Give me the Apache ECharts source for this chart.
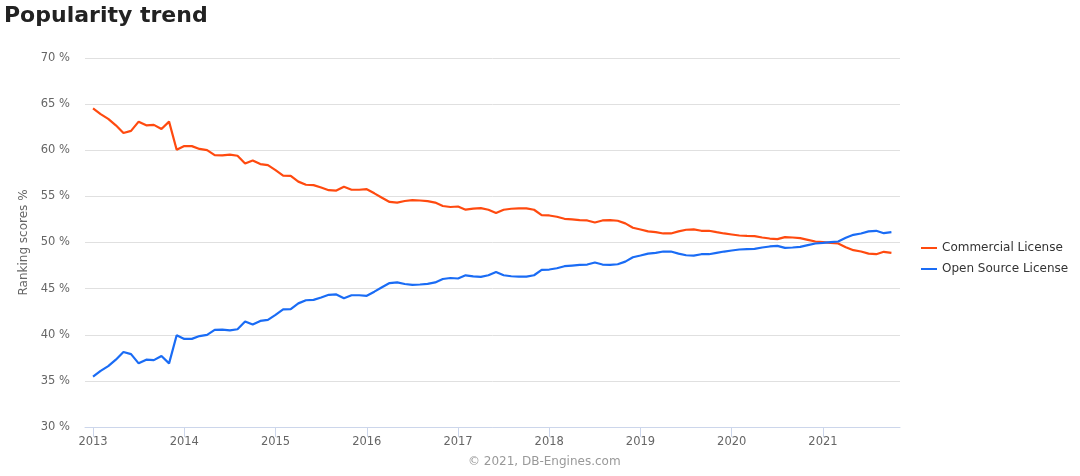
<!DOCTYPE html>
<html>
<head>
<meta charset="utf-8">
<title>Popularity trend</title>
<style>
  html, body { margin: 0; padding: 0; background: #fff; }
  #main { width: 1080px; height: 476px; }
</style>
</head>
<body>
<div id="main"></div>
<script src="https://cdn.jsdelivr.net/npm/echarts@6/dist/echarts.min.js"></script>
<script type="text/javascript">
// monthly values, Jan 2013 .. Oct 2021
var startYear = 2013;
var yearTicks = [2013, 2014, 2015, 2016, 2017, 2018, 2019, 2020, 2021];
var seriesNames = ['Commercial License', 'Open Source License'];

var commercial = [
  64.55, 63.92, 63.40, 62.70, 61.87, 62.10, 63.10, 62.70, 62.75, 62.30, 63.10, 60.05,
  60.45, 60.45, 60.14, 60.02, 59.48, 59.45, 59.52, 59.40, 58.56, 58.90, 58.50, 58.38,
  57.84, 57.25, 57.22, 56.60, 56.26, 56.22, 55.96, 55.67, 55.63, 56.04, 55.72, 55.72,
  55.78, 55.33, 54.85, 54.40, 54.33, 54.50, 54.60, 54.55, 54.48, 54.33, 53.96, 53.85,
  53.90, 53.56, 53.67, 53.72, 53.55, 53.20, 53.55, 53.66, 53.70, 53.70, 53.55, 52.97,
  52.93, 52.79, 52.57, 52.50, 52.43, 52.39, 52.17, 52.39, 52.43, 52.36, 52.07, 51.60,
  51.41, 51.20, 51.12, 50.98, 50.98, 51.20, 51.38, 51.42, 51.27, 51.27, 51.12, 50.98,
  50.87, 50.76, 50.72, 50.69, 50.54, 50.43, 50.36, 50.58, 50.54, 50.47, 50.29, 50.11,
  50.04, 49.96, 49.89, 49.49, 49.17, 49.02, 48.80, 48.73, 48.99, 48.88
];

var openSource = [
  35.45, 36.08, 36.60, 37.30, 38.13, 37.90, 36.90, 37.30, 37.25, 37.70, 36.90, 39.95,
  39.55, 39.55, 39.86, 39.98, 40.52, 40.55, 40.48, 40.60, 41.44, 41.10, 41.50, 41.62,
  42.16, 42.75, 42.78, 43.40, 43.74, 43.78, 44.04, 44.33, 44.37, 43.96, 44.28, 44.28,
  44.22, 44.67, 45.15, 45.60, 45.67, 45.50, 45.40, 45.45, 45.52, 45.67, 46.04, 46.15,
  46.10, 46.44, 46.33, 46.28, 46.45, 46.80, 46.45, 46.34, 46.30, 46.30, 46.45, 47.03,
  47.07, 47.21, 47.43, 47.50, 47.57, 47.61, 47.83, 47.61, 47.57, 47.64, 47.93, 48.40,
  48.59, 48.80, 48.88, 49.02, 49.02, 48.80, 48.62, 48.58, 48.73, 48.73, 48.88, 49.02,
  49.13, 49.24, 49.28, 49.31, 49.46, 49.57, 49.64, 49.42, 49.46, 49.53, 49.71, 49.89,
  49.96, 50.04, 50.11, 50.51, 50.83, 50.98, 51.20, 51.27, 51.01, 51.12
];

var colors = ['#ff4a0f', '#1a6cf5'];
var fontFam = '"DejaVu Sans", Verdana, sans-serif';

// month index -> decimal year on the value axis
function toPoints(arr) {
  return arr.map(function (v, i) { return [startYear + i / 12, v]; });
}

var myChart = echarts.init(document.getElementById('main'));

var option = {
  animation: false,
  backgroundColor: '#fff',
  color: colors,
  title: {
    text: 'Popularity trend',
    left: -1,
    top: 0,
    textStyle: { fontFamily: fontFam, fontSize: 22, fontWeight: 'bold', color: '#222' }
  },
  grid: { left: 85, right: 180, top: 58, bottom: 49 },
  legend: {
    data: seriesNames,
    orient: 'vertical',
    left: 916,
    top: 237,
    itemWidth: 16,
    itemHeight: 2,
    itemGap: 9,
    icon: 'rect',
    textStyle: { fontFamily: fontFam, fontSize: 12, color: '#333' }
  },
  xAxis: {
    type: 'value',
    min: startYear - 0.088,
    max: 2021.844,
    axisLine: { show: true, lineStyle: { color: '#ccd6eb' } },
    axisTick: { show: true, length: 10, lineStyle: { color: '#ccd6eb' }, customValues: yearTicks },
    axisLabel: {
      customValues: yearTicks,
      margin: 9,
      color: '#666',
      fontFamily: fontFam,
      fontSize: 11.5,
      formatter: function (v) { return String(Math.round(v)); }
    },
    splitLine: { show: false }
  },
  yAxis: {
    type: 'value',
    min: 30,
    max: 70,
    interval: 5,
    name: 'Ranking scores %',
    nameLocation: 'middle',
    nameGap: 51,
    nameTextStyle: { fontFamily: fontFam, fontSize: 12, color: '#666' },
    axisLine: { show: false },
    axisTick: { show: false },
    axisLabel: { margin: 15, color: '#666', fontFamily: fontFam, fontSize: 11.5, formatter: '{value} %' },
    splitLine: { lineStyle: { color: '#e0e0e0' } }
  },
  graphic: [{
    type: 'text',
    left: 468,
    top: 456,
    style: { text: '\u00a9 2021, DB-Engines.com', fill: '#999', font: '12px ' + fontFam }
  }],
  series: [
    {
      name: seriesNames[0],
      type: 'line',
      showSymbol: false,
      lineStyle: { width: 2.2 },
      data: toPoints(commercial)
    },
    {
      name: seriesNames[1],
      type: 'line',
      showSymbol: false,
      lineStyle: { width: 2.2 },
      data: toPoints(openSource)
    }
  ]
};

myChart.setOption(option);
window.addEventListener('resize', function () { myChart.resize(); });
</script>
</body>
</html>
